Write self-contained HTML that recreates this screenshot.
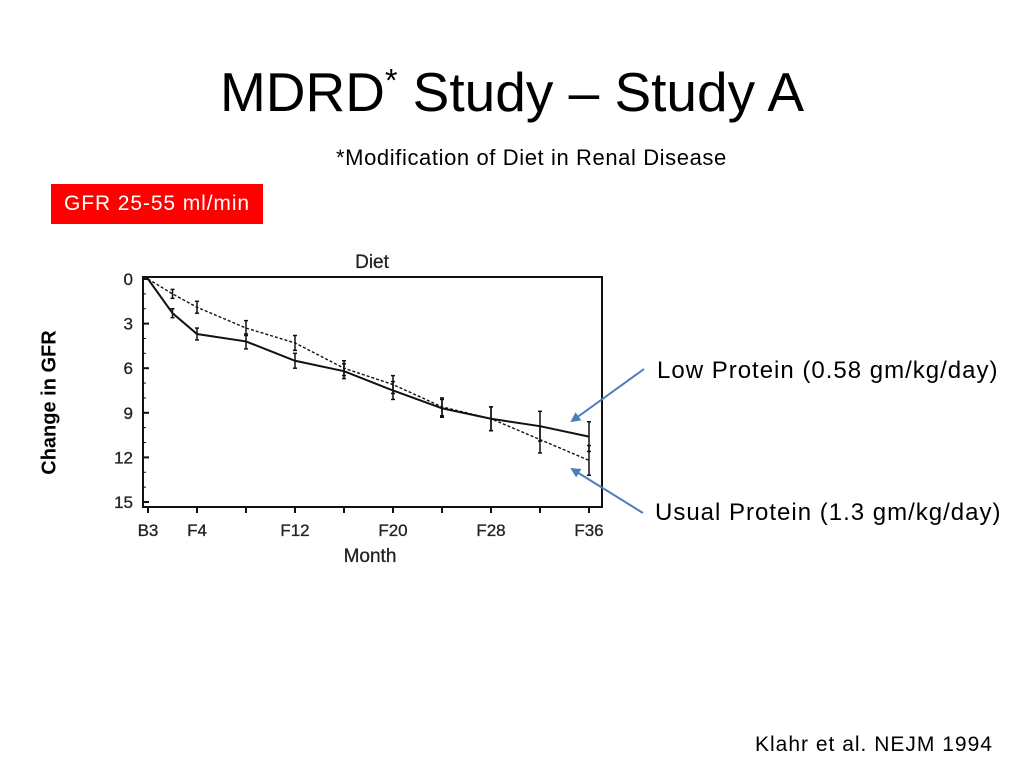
<!DOCTYPE html>
<html><head><meta charset="utf-8"><style>
body{margin:0;width:1024px;height:768px;background:#fff;font-family:"Liberation Sans",sans-serif;position:relative;overflow:hidden}
.t{position:absolute;white-space:nowrap}
</style></head><body>
<div class="t" style="left:0;width:1024px;text-align:center;top:60px;font-size:55px;color:#000">MDRD<sup style="font-size:32px">*</sup> Study – Study A</div>
<div class="t" style="left:336px;top:145px;font-size:22px;letter-spacing:0.6px">*Modification of Diet in Renal Disease</div>
<div class="t" style="left:51px;top:184px;width:212px;height:40px;background:#f00;color:#fff;font-size:21px;line-height:40px;text-align:center;letter-spacing:0.9px">GFR 25-55 ml/min</div>
<div class="t" style="left:-30px;top:391px;font-size:20px;font-weight:bold;transform:rotate(-90deg);width:160px;text-align:center">Change in GFR</div>
<div class="t" style="left:657px;top:357px;font-size:24px;letter-spacing:1px">Low Protein (0.58 gm/kg/day)</div>
<div class="t" style="left:655px;top:499px;font-size:24px;letter-spacing:1px">Usual Protein (1.3 gm/kg/day)</div>
<div class="t" style="left:755px;top:733px;font-size:21px;letter-spacing:1px">Klahr et al.  NEJM 1994</div>
<svg id="c" width="1024" height="768" style="position:absolute;left:0;top:0"></svg>
<script>
const months=[0,2,4,8,12,16,20,24,28,32,36];
const lowProtein=[0,2.3,3.7,4.2,5.5,6.2,7.5,8.7,9.4,9.9,10.6];
const usualProtein=[0,1.0,1.9,3.3,4.3,6.0,7.1,8.6,9.4,10.8,12.2];
const lowErr=[0,0.3,0.4,0.5,0.5,0.5,0.6,0.6,0.8,1.0,1.0];
const usualErr=[0,0.3,0.4,0.5,0.5,0.5,0.6,0.6,0.8,0.9,1.0];
const xTicks=[0,4,8,12,16,20,24,28,32,36];
const xLabels=["B3","F4","","F12","","F20","","F28","","F36"];
const yTicks=[0,3,6,9,12,15];
const NS="http://www.w3.org/2000/svg",svg=document.getElementById('c');
const X=m=>148+m*(589-148)/36, Y=v=>279+v*(502-279)/15;
function el(t,a,p){const e=document.createElementNS(NS,t);for(const k in a)e.setAttribute(k,a[k]);(p||svg).appendChild(e);return e}
const frame=el('rect',{x:143,y:277,width:459,height:230,fill:'none',stroke:'#111','stroke-width':2});


const dt=el('text',{x:372,y:268,'font-size':19,'text-anchor':'middle',fill:'#222','stroke':'#222','stroke-width':0.3});dt.textContent='Diet';


const mt=el('text',{x:370,y:562,'font-size':19,'text-anchor':'middle',fill:'#222','stroke':'#222','stroke-width':0.3});mt.textContent='Month';


yTicks.forEach(v=>{el('line',{x1:143,x2:149,y1:Y(v),y2:Y(v),stroke:'#111','stroke-width':2});
const t=el('text',{x:133,y:Y(v)+6,'font-size':17,'text-anchor':'end',fill:'#222','stroke':'#222','stroke-width':0.3});t.textContent=v;

});
for(let v=1;v<15;v++)el('line',{x1:143,x2:146,y1:Y(v),y2:Y(v),stroke:'#111'});
xTicks.forEach((m,i)=>{el('line',{x1:X(m),x2:X(m),y1:507,y2:513,stroke:'#111','stroke-width':2});
const t=el('text',{x:X(m),y:536,'font-size':17,'text-anchor':'middle',fill:'#222','stroke':'#222','stroke-width':0.3});t.textContent=xLabels[i];

});
function series(vals,errs,dash,name){
const p=el('polyline',{points:months.map((m,i)=>X(m)+','+Y(vals[i])).join(' '),fill:'none',stroke:'#111','stroke-width':dash?1.4:2,'stroke-dasharray':dash?'3,2':'none'});


months.forEach((m,i)=>{if(!errs[i])return;const x=X(m),a=Y(vals[i]-errs[i]),b=Y(vals[i]+errs[i]);
const g=el('g',{stroke:'#111','stroke-width':1.5});


el('line',{x1:x,x2:x,y1:a,y2:b},g);el('line',{x1:x-2,x2:x+2,y1:a,y2:a},g);el('line',{x1:x-2,x2:x+2,y1:b,y2:b},g);});}
series(lowProtein,lowErr,false,'low-protein');
series(usualProtein,usualErr,true,'usual-protein');
el('defs',{}).innerHTML='<marker id="ah" markerWidth="10" markerHeight="10" refX="8" refY="5" orient="auto" markerUnits="userSpaceOnUse"><path d="M0,0 L10,5 L0,10 z" fill="#4a7ebb"/></marker>';
const a1=el('line',{x1:644,y1:369,x2:572,y2:421,stroke:'#4a7ebb','stroke-width':2,'marker-end':'url(#ah)'});


const a2=el('line',{x1:643,y1:513,x2:572,y2:469,stroke:'#4a7ebb','stroke-width':2,'marker-end':'url(#ah)'});


</script>
</body></html>
